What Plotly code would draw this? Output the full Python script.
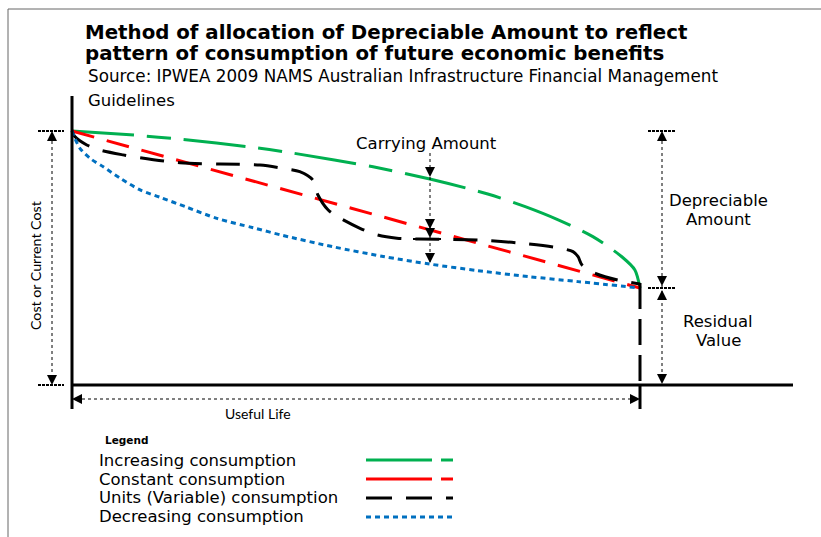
import plotly.graph_objects as go

# ---------------- data (t = share of useful life 0..10, value = % of cost) ----
green_t = [0, 1.14, 1.84, 3.25, 3.89, 5.30, 6.30, 7.32, 7.98, 8.56, 9.17, 9.68, 9.91, 10]
green_v = [100, 98.3, 96.9, 93.4, 91.3, 85.9, 81.1, 75.2, 70.2, 65.0, 58.4, 50.5, 45.3, 38.2]

red_t = [0, 10]
red_v = [100, 38.2]

black_t = [0, 0.05, 0.26, 0.49, 0.90, 1.20, 1.90, 2.61, 3.31, 3.71, 4.01, 4.24, 4.33, 4.51,
           4.72, 5.07, 5.37, 5.72, 6.44, 7.15, 7.83, 8.54, 8.82, 8.91, 8.98, 9.24, 9.61, 10]
black_v = [100, 97.8, 94.5, 92.5, 90.6, 89.5, 87.5, 87.0, 86.6, 85.3, 84.0, 80.7, 74.8, 68.9,
           65.7, 61.7, 59.1, 57.8, 57.4, 57.1, 56.0, 54.1, 52.5, 50.5, 47.2, 43.7, 41.3, 39.8]

blue_t = [0, 0.05, 0.14, 0.32, 0.55, 0.85, 1.20, 1.55, 2.02, 2.55, 3.19, 3.71, 4.60, 5.48,
          6.30, 7.15, 8.03, 8.91, 10]
blue_v = [100, 97.1, 93.2, 89.2, 85.9, 81.4, 76.8, 73.9, 70.0, 65.6, 61.9, 58.9, 54.4, 50.6,
          47.6, 45.0, 42.7, 40.7, 38.2]

series_names = ["Increasing consumption", "Constant consumption",
                "Units (Variable) consumption", "Decreasing consumption"]

# ---------------- geometry helpers (pixel -> data / paper) ---------------------
W, H = 821, 537
PX_T0, PX_T10 = 72, 640
PY_V100, PY_V0 = 131, 385
sx = (PX_T10 - PX_T0) / 10.0
sy = (PY_V0 - PY_V100) / 100.0


def dx(px):
    return (px - PX_T0) / sx


def dy(py):
    return (PY_V0 - py) / sy


def paper_x(px):
    return px / W


def paper_y(py):
    return 1 - py / H


FONT = "DejaVu Sans"
FONT2 = "Lato"
GREEN, RED, BLACK, BLUE = "#00B050", "#FF0000", "#000000", "#0070C0"

fig = go.Figure()

styles = [
    (green_t, green_v, GREEN, "62px,13px,24px,13px"),
    (red_t, red_v, RED, "23px,13px"),
    (black_t, black_v, BLACK, "24px,14px"),
    (blue_t, blue_v, BLUE, "5px,4px"),
]
for (t, v, col, dash), name in zip(styles, series_names):
    fig.add_trace(go.Scatter(x=t, y=v, mode="lines", name=name,
                             line=dict(color=col, width=3, dash=dash, shape="spline", smoothing=0.8),
                             hoverinfo="skip", showlegend=False))

shapes = []


def seg(x0, y0, x1, y1, color="black", width=1, dash="solid"):
    shapes.append(dict(type="line", xref="x", yref="y", x0=dx(x0), y0=dy(y0), x1=dx(x1), y1=dy(y1),
                       line=dict(color=color, width=width, dash=dash)))


# frame
shapes.append(dict(type="line", xref="paper", yref="paper", x0=paper_x(8), x1=1, y0=paper_y(9), y1=paper_y(9),
                   line=dict(color="#666666", width=1)))
shapes.append(dict(type="line", xref="paper", yref="paper", x0=paper_x(8), x1=paper_x(8), y0=paper_y(9), y1=0,
                   line=dict(color="#666666", width=1)))

# axes
seg(72, 96, 72, 386, width=3)
seg(71, 385, 793, 385, width=3)
# end of life vertical dashed line
seg(640, 283, 640, 385, width=3, dash="26px,10px")
seg(640, 385, 640, 409, width=3)
seg(72, 386, 72, 409, width=3)

# left dimension
seg(38, 131, 64, 131, width=2, dash="3px,1px")
seg(38, 385, 64, 385, width=2, dash="3px,1px")
seg(52, 135, 52, 381, width=1, dash="dot")
# right dimension
seg(648, 131, 675, 131, width=2, dash="3px,1px")
seg(648, 288, 675, 288, width=2, dash="3px,1px")
seg(662, 135, 662, 382, width=1, dash="dot")
# bottom dimension
seg(76, 399, 636, 399, width=1, dash="dot")
# carrying amount
seg(430, 153, 430, 262, width=1, dash="dot")
seg(413, 239, 441, 239, width=2)

# legend samples
LEG_Y = [460, 479, 498, 517]
seg(366, LEG_Y[0], 432, LEG_Y[0], color=GREEN, width=3)
seg(441, LEG_Y[0], 453, LEG_Y[0], color=GREEN, width=3)
seg(366, LEG_Y[1], 432, LEG_Y[1], color=RED, width=3)
seg(441, LEG_Y[1], 453, LEG_Y[1], color=RED, width=3)
seg(366, LEG_Y[2], 392, LEG_Y[2], color=BLACK, width=3)
seg(406, LEG_Y[2], 432, LEG_Y[2], color=BLACK, width=3)
seg(446, LEG_Y[2], 453, LEG_Y[2], color=BLACK, width=3)
seg(366, LEG_Y[3], 453, LEG_Y[3], color=BLUE, width=3, dash="5px,4px")

# arrowheads (tip at the given point)
arrows = [
    (52, 131, "arrow-up"), (52, 385, "arrow-down"),
    (662, 131, "arrow-up"), (662, 286, "arrow-down"), (662, 290, "arrow-up"), (662, 384, "arrow-down"),
    (72, 399, "arrow-left"), (640, 399, "arrow-right"),
    (430, 177, "arrow-down"), (430, 229, "arrow-down"), (430, 238, "arrow-down"), (430, 263, "arrow-down"),
]
fig.add_trace(go.Scatter(x=[dx(a[0]) for a in arrows], y=[dy(a[1]) for a in arrows], mode="markers",
                         marker=dict(symbol=[a[2] for a in arrows], size=10, color="black",
                                     line=dict(width=0)),
                         hoverinfo="skip", showlegend=False))

ann = []


def text(px, py, s, size=14, bold=False, xanchor="center", angle=0, family=FONT):
    ann.append(dict(xref="paper", yref="paper", x=paper_x(px), y=paper_y(py), text=("<b>%s</b>" % s) if bold else s,
                    showarrow=False, xanchor=xanchor, yanchor="middle", textangle=angle,
                    font=dict(family=family, size=size, color="black")))


text(83, 32, "Method of allocation of Depreciable Amount to reflect", size=19.8, bold=True, xanchor="left")
text(83, 53, "pattern of consumption of future economic benefits", size=19.8, bold=True, xanchor="left")
text(86, 76, "Source: IPWEA 2009 NAMS Australian Infrastructure Financial Management", size=16.8, xanchor="left")
text(86, 101, "Guidelines", size=16.5, xanchor="left")
text(35, 266, "Cost or Current Cost", size=14.2, angle=-90, family=FONT2)
text(427, 143, "Carrying Amount", size=16.5)
text(718, 200, "Depreciable", size=16.5)
text(718, 219, "Amount", size=16.5)
text(718, 321, "Residual", size=16.5)
text(718, 340, "Value", size=16.5)
text(258, 413, "Useful Life", size=14, family=FONT2)
text(103, 440, "Legend", size=10.5, bold=True, xanchor="left")
for name, yy in zip(series_names, [460, 479, 497, 516]):
    text(97, yy, name, size=16.5, xanchor="left")

fig.update_layout(
    width=W, height=H, margin=dict(l=0, r=0, t=0, b=0),
    paper_bgcolor="white", plot_bgcolor="white",
    xaxis=dict(range=[dx(0), dx(W)], visible=False, fixedrange=True),
    yaxis=dict(range=[dy(H), dy(0)], visible=False, fixedrange=True),
    shapes=shapes, annotations=ann, showlegend=False,
)
fig.write_html("out.html", config={"displayModeBar": False},
               post_script="document.body.style.margin='0';document.body.style.overflow='hidden';")
